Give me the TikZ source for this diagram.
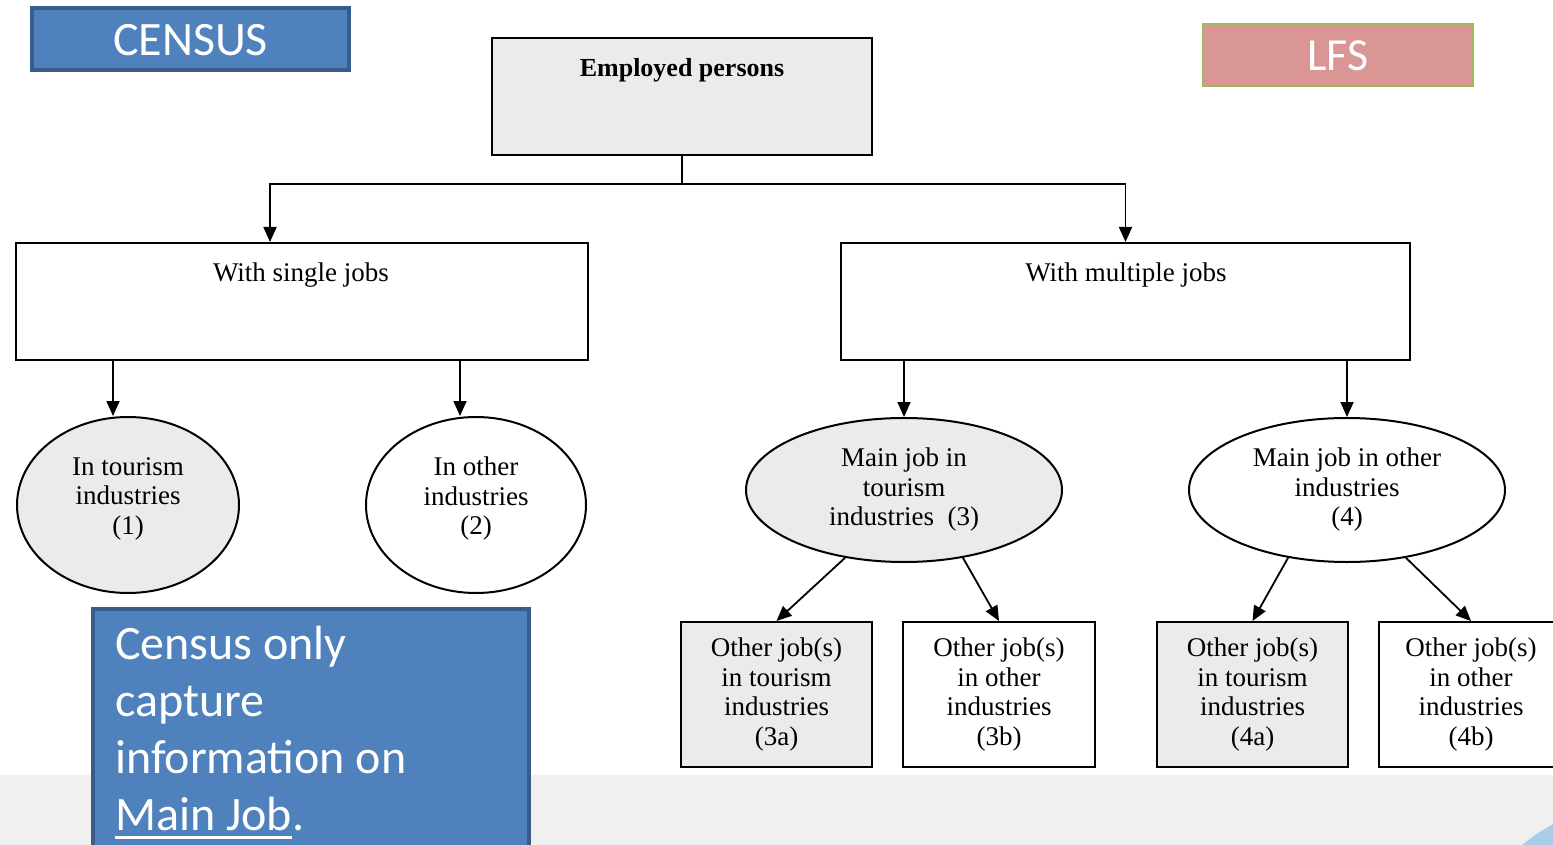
\documentclass[tikz,border=0pt]{standalone}
\usepackage{fontspec}
\setmainfont{Liberation Serif}
\newfontfamily\calibri{Carlito}
\usetikzlibrary{shapes.geometric,arrows.meta}
\definecolor{cblue}{HTML}{4F81BD}
\definecolor{cblueb}{HTML}{385D8A}
\definecolor{lfsred}{HTML}{D99694}
\definecolor{lfsgreen}{HTML}{9BBB59}
\definecolor{boxgray}{HTML}{EBEBEB}
\definecolor{bggray}{HTML}{F0F0F0}
\definecolor{swoosh}{HTML}{A9CDE9}
\newcommand\myul[1]{\vtop{\hbox{#1}\kern5pt\hrule height 3pt}}
\newcommand\lift{\rule[-18pt]{0pt}{0pt}}
\begin{document}
\begin{tikzpicture}[x=1pt,y=-1pt,
  every node/.style={font=\fontsize{27}{29.5}\selectfont},
  box/.style={draw,line width=2pt,rectangle,inner sep=0pt},
  ell/.style={draw,line width=2pt,ellipse,inner sep=0pt,align=center},
  conn/.style={line width=1.8pt},
  arr/.style={line width=1.8pt,-{Triangle[length=15pt,width=13pt]}},
  callout/.style={fill=cblue,draw=cblueb,rectangle,inner sep=0pt},
  calltext/.style={text=white,font=\calibri\fontsize{48}{57}\selectfont}]
\useasboundingbox (0,0) rectangle (1553,845);
\fill[white] (0,0) rectangle (1553,845);
\fill[bggray] (0,775) rectangle (1553,845);
\fill[swoosh] (1522,845) .. controls (1536,834) .. (1553,824) -- (1553,845) -- cycle;

% title boxes
\node[callout,line width=4pt,minimum width=317pt,minimum height=62pt] (census) at (190.5,39) {};
\node[calltext,anchor=center] (censust) at (190.5,40) {CENSUS};
\node[fill=lfsred,draw=lfsgreen,line width=2pt,rectangle,inner sep=0pt,minimum width=270pt,minimum height=62pt] (lfs) at (1338,55) {};
\node[text=white,font=\calibri\fontsize{46}{50}\selectfont] (lfst) at (1338,56) {LFS};

% main tree
\node[box,fill=boxgray,minimum width=380pt,minimum height=117pt] (emp) at (682,96.5) {};
\node[anchor=base,font=\bfseries\fontsize{26}{29}\selectfont] (empt) at (682,77) {Employed persons};
\node[box,fill=white,minimum width=572pt,minimum height=117pt] (single) at (302,301.5) {};
\node[anchor=base] (singlet) at (301,281) {With single jobs};
\node[box,fill=white,minimum width=569pt,minimum height=117pt] (multi) at (1125.5,301.5) {};
\node[anchor=base] (multit) at (1126,281) {With multiple jobs};

\node[ell,fill=boxgray,minimum width=222pt,minimum height=176pt] (e1) at (128,505) {In tourism\\industries\\(1)\lift};
\node[ell,fill=white,minimum width=220pt,minimum height=176pt] (e2) at (476,505) {In other\\industries\\(2)\lift};
\node[ell,fill=boxgray,minimum width=316pt,minimum height=144pt] (e3) at (904,490) {Main job in\\tourism\\industries\ \ (3)};
\node[ell,fill=white,minimum width=316pt,minimum height=144pt] (e4) at (1347,490) {Main job in other\\industries\\(4)};

\node[box,fill=boxgray,minimum width=191pt,minimum height=145pt,align=center] (b3a) at (776.5,694.5) {Other job(s)\\in tourism\\industries\\(3a)};
\node[box,fill=white,minimum width=192pt,minimum height=145pt,align=center] (b3b) at (999,694.5) {Other job(s)\\in other\\industries\\(3b)};
\node[box,fill=boxgray,minimum width=191pt,minimum height=145pt,align=center] (b4a) at (1252.5,694.5) {Other job(s)\\in tourism\\industries\\(4a)};
\node[box,fill=white,minimum width=184pt,minimum height=145pt,align=center] (b4b) at (1471,694.5) {Other job(s)\\in other\\industries\\(4b)};

% connectors
\coordinate (j) at (682,184);
\coordinate (xa) at (270,0);
\coordinate (x1) at (113,0);
\coordinate (x2) at (460,0);
\draw[conn] (emp.south) -- (j);
\draw[arr] (j) -| (single.north -| xa);
\draw[arr] (j) -| (multi.north);
\draw[arr] (single.south -| x1) -- (e1.north -| x1);
\draw[arr] (single.south -| x2) -- (e2.north -| x2);
\draw[arr] (multi.south -| e3.north) -- (e3.north);
\draw[arr] (multi.south -| e4.north) -- (e4.north);
\draw[arr] (e3.229) -- (b3a.north);
\draw[arr] (e3.311) -- (b3b.north);
\draw[arr] (e4.229) -- (b4a.north);
\draw[arr] (e4.311) -- (b4b.north);

% callout
\node[callout,line width=3.5pt,minimum width=436pt,minimum height=270pt,anchor=north west] (note) at (91,607) {};
\node[calltext,anchor=north west,inner sep=0pt,align=left] (notet) at (115,626) {Census only\\capture\\information on\\\myul{Main Job}.};
\end{tikzpicture}
\end{document}
